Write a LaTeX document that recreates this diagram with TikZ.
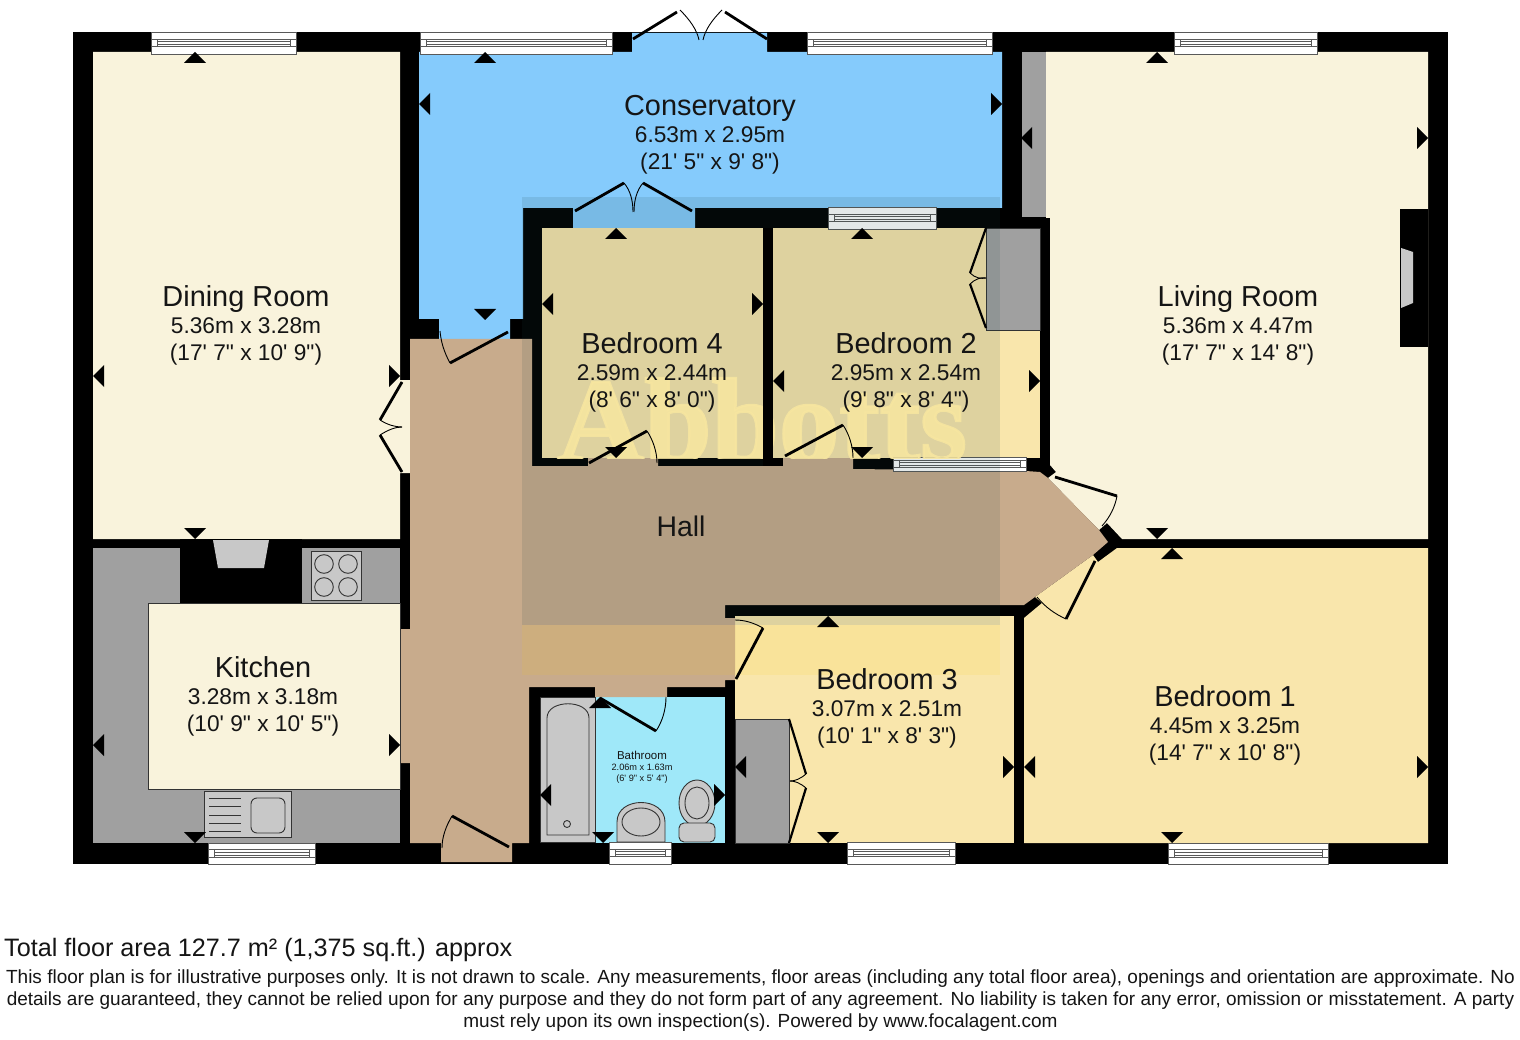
\documentclass[tikz,border=0pt]{standalone}
\usepackage{fontspec}
\usepackage{tikz}
\newfontfamily\planfont{Liberation Sans}
\newfontfamily\logofont[BoldFeatures={FakeBold=2}]{Liberation Serif}
\definecolor{creamroom}{HTML}{F9F3DC}
\definecolor{yellowroom}{HTML}{F9E6AC}
\definecolor{blueroom}{HTML}{85CBFC}
\definecolor{bathroom}{HTML}{9FE8F9}
\definecolor{hallfloor}{HTML}{C8AB8C}
\definecolor{fitted}{HTML}{A0A0A0}
\definecolor{fitting}{HTML}{C8C8C8}
\definecolor{inktext}{HTML}{151515}
\definecolor{logotint}{HTML}{1E4646}
\definecolor{logotext}{HTML}{F7E6A0}
\tikzset{
	roomlabel/.style={align=center, inner sep=0pt, text=inktext, font=\planfont\fontsize{22.7}{27}\selectfont},
	smalllabel/.style={align=center, inner sep=0pt, text=inktext, font=\planfont\fontsize{9.2}{11}\selectfont},
	noticetext/.style={align=center, inner sep=0pt, text=inktext, font=\planfont\fontsize{19}{22}\selectfont},
	doorleaf/.style={line width=2.8pt, black},
	doorswing/.style={line width=0.9pt, black},
	winline/.style={line width=0.8pt, black!65},
	fitline/.style={line width=0.9pt, black!80},
}
\newcommand{\roomtext}[3]{{\fontsize{28.9}{29}\selectfont #1}\\[0.5pt]#2\\#3}
\newcommand{\wallmark}[3]{\fill[black, shift={(#1,#2)}, rotate=#3] (0,0) -- (-11,11) -- (11,11) -- cycle;}
\newcommand{\planwindow}[4]{
	\draw[winline, fill=white] (#1,#2) rectangle (#3,#4);
	\draw[winline] (#1,{(#2+#4)/2-3.7}) -- (#3,{(#2+#4)/2-3.7});
	\draw[winline] (#1,{(#2+#4)/2+3.7}) -- (#3,{(#2+#4)/2+3.7});
	\draw[winline] ({#1+6},{(#2+#4)/2-3.7}) rectangle ({#3-6},{(#2+#4)/2+3.7});
	\draw[winline] ({#1+6},{(#2+#4)/2-1.4}) -- ({#3-6},{(#2+#4)/2-1.4});
	\draw[winline] ({#1+6},{(#2+#4)/2+1.4}) -- ({#3-6},{(#2+#4)/2+1.4});
}
\begin{document}
\begin{tikzpicture}[x=1pt, y=-1pt]
\path[use as bounding box, fill=white] (0,0) rectangle (1520,1040);
\fill[black] (73,32) rectangle (1448,864);

\fill[creamroom] (93,52) -- (400,52) -- (400,380) -- (410,380) -- (410,473) -- (400,473) -- (400,539) -- (93,539) -- cycle;
\fill[blueroom] (419,52) -- (632,52) -- (632,33) -- (767,33) -- (767,52) -- (1002,52) -- (1002,208) -- (695,208) -- (695,228) -- (573,228) -- (573,208) -- (523,208) -- (523,319) -- (510,319) -- (510,339) -- (439,339) -- (439,319) -- (419,319) -- cycle;
\fill[creamroom] (1046,52) -- (1428,52) -- (1428,539) -- (1122,539) -- (1107,523) -- (1099,530) -- (1048,478) -- (1056,472) -- (1050,465) -- (1050,218) -- (1046,218) -- cycle;
\fill[yellowroom] (542,228) rectangle (763,458);
\fill[yellowroom] (773,228) rectangle (1040,458);
\fill[yellowroom] (735,616) rectangle (1014,843);
\fill[yellowroom] (1117,548) -- (1428,548) -- (1428,843) -- (1024,843) -- (1024,618) -- (1042,603) -- (1035,597) -- (1093,555) -- (1098,562) -- cycle;
\fill[bathroom] (540,697) rectangle (725,843);
\fill[fitted] (93,548) rectangle (400,843);
\fill[fitted] (1022,52) rectangle (1046,217);
\fill[hallfloor] (410,339) -- (532,339) -- (532,466) -- (588,466) -- (588,458) -- (658,458) -- (658,466) -- (783,466) -- (783,458) -- (853,458) -- (853,469) -- (1026,471) -- (1040,472) -- (1048,478) -- (1099,530) -- (1108,542) -- (1093,555) -- (1035,597) -- (1024,605) -- (725,605) -- (725,618) -- (735,618) -- (735,680) -- (725,680) -- (725,687) -- (667,687) -- (667,697) -- (595,697) -- (595,687) -- (529,687) -- (529,843) -- (512,843) -- (512,862) -- (441,862) -- (441,843) -- (410,843) -- (410,763) -- (400,763) -- (400,629) -- (410,629) -- cycle;

\draw[fitline, fill=creamroom] (148,603) rectangle (400,789);
\fill[black] (180,539) rectangle (302,603);
\fill[fitting] (213,540) -- (269,540) -- (264,568) -- (218,568) -- cycle;
\draw[fitline, fill=fitting] (311,551) rectangle (361,600);
	\draw[fitline] (324,564) circle (9.3);
	\draw[fitline] (348,564) circle (9.3);
	\draw[fitline] (324,587) circle (9.3);
	\draw[fitline] (348,587) circle (9.3);
\draw[fitline, fill=fitting] (204,791) rectangle (291,837);
	\draw[fitline, rounded corners=6pt] (251,798) rectangle (285,833);
	\draw[fitline] (209,798) -- (241,798);
	\draw[fitline] (209,806) -- (241,806);
	\draw[fitline] (209,815) -- (241,815);
	\draw[fitline] (209,823) -- (241,823);
	\draw[fitline] (209,831) -- (241,831);

\fill[black] (1400,209) rectangle (1428,347);
\fill[fitting] (1401,248) -- (1413,252) -- (1413,303) -- (1401,308) -- cycle;

\draw[fitline, fill=fitted] (986,228) rectangle (1040,330);
\draw[fitline, fill=fitted] (735,719) rectangle (789,843);

\draw[fitline, fill=fitting] (540,697) rectangle (595,842);
	\draw[fitline] (547,835) -- (547,718) .. controls (547,699) and (589,699) .. (589,718) -- (589,835) -- cycle;
	\draw[fitline] (567,824) circle (3.5);
\draw[fitline, fill=fitting] (617,842) -- (617,822) .. controls (617,796) and (665,796) .. (665,822) -- (665,842) -- cycle;
	\draw[fitline] (641,822) ellipse (19 and 14);
\draw[fitline, fill=fitting] (697,803) ellipse (18 and 23);
	\draw[fitline] (697,803) ellipse (12 and 16);
\draw[fitline, fill=fitting, rounded corners=5pt] (679,823) rectangle (715,842);

\planwindow{151}{32}{296}{54}
\planwindow{420}{32}{612}{54}
\planwindow{807}{32}{992}{54}
\planwindow{1174}{32}{1317}{54}
\planwindow{828}{207}{936}{229}
\planwindow{893}{457}{1026}{471}
\planwindow{208}{843}{315}{864}
\planwindow{609}{842}{671}{864}
\planwindow{847}{842}{955}{864}
\planwindow{1168}{843}{1328}{864}

\fill[logotint, opacity=0.12] (522,197) rectangle (1000,625);
\fill[yellow!70!orange, opacity=0.1] (522,625) rectangle (1000,675);
\begin{scope}
	\clip (522,370) rectangle (1000,458);
	\node (logo) at (762,462) [anchor=base, inner sep=0pt, text=logotext, text opacity=0.85, font=\logofont\bfseries\fontsize{121}{121}\selectfont] {Abbotts};
\end{scope}
\fill[black] (763,228) rectangle (773,466);
\fill[black] (773,458) rectangle (783,466);

\draw[doorleaf] (633,39) -- (677,12);
	\draw[doorswing] (680,10) .. controls (690,20) and (697,30) .. (699,40);
\draw[doorleaf] (767,39) -- (725,12);
	\draw[doorswing] (722,10) .. controls (712,20) and (705,30) .. (703,40);
\draw[doorleaf] (575,211) -- (624,183);
	\draw[doorswing] (624,183) .. controls (630,190) and (633,200) .. (633,212);
\draw[doorleaf] (692,211) -- (643,183);
	\draw[doorswing] (643,183) .. controls (637,190) and (634,200) .. (634,212);
\draw[doorleaf] (508,332) -- (450,363);
	\draw[doorswing] (450,363) .. controls (444,352) and (441,342) .. (440,331);
\draw[doorleaf] (589,463) -- (647,431);
	\draw[doorswing] (647,431) .. controls (653,440) and (657,452) .. (657,463);
\draw[doorleaf] (785,456) -- (843,425);
	\draw[doorswing] (843,425) .. controls (849,434) and (853,446) .. (853,458);
\draw[doorleaf] (402,382) -- (380,420);
	\draw[doorswing] (380,420) .. controls (388,425) and (395,427) .. (402,427);
\draw[doorleaf] (402,472) -- (380,435);
	\draw[doorswing] (380,435) .. controls (388,430) and (395,427) .. (402,427);
\draw[doorleaf] (736,679) -- (763,628);
	\draw[doorswing] (763,628) .. controls (754,623) and (745,620) .. (735,620);
\draw[doorleaf] (600,698) -- (656,731);
	\draw[doorswing] (656,731) .. controls (662,722) and (666,710) .. (666,697);
\draw[doorleaf] (509,847) -- (452,816);
	\draw[doorswing] (452,816) .. controls (446,826) and (442,837) .. (442,848);
\draw[doorleaf] (1055,477) -- (1117,496);
	\draw[doorswing] (1117,496) .. controls (1115,507) and (1110,517) .. (1102,526);
\draw[doorleaf] (1095,561) -- (1066,619);
	\draw[doorswing] (1066,619) .. controls (1055,614) and (1045,607) .. (1037,597);
\draw[doorleaf, line width=2.2pt] (986,228) -- (970,273);
	\draw[doorswing] (970,273) .. controls (975,278) and (981,279) .. (986,278);
\draw[doorleaf, line width=2.2pt] (986,328) -- (970,284);
	\draw[doorswing] (970,284) .. controls (975,279) and (981,277) .. (986,278);
\draw[doorleaf, line width=2.2pt] (789,719) -- (806,774);
	\draw[doorswing] (806,774) .. controls (800,779) and (795,781) .. (790,781);
\draw[doorleaf, line width=2.2pt] (789,843) -- (806,788);
	\draw[doorswing] (806,788) .. controls (800,783) and (795,781) .. (790,781);

\wallmark{195}{52}{0}
\wallmark{485}{52}{0}
\wallmark{1157}{52}{0}
\wallmark{616}{228}{0}
\wallmark{862}{228}{0}
\wallmark{1172}{548}{0}
\wallmark{828}{616}{0}
\wallmark{600}{697}{0}
\wallmark{195}{539}{180}
\wallmark{485}{320}{180}
\wallmark{1157}{539}{180}
\wallmark{195}{843}{180}
\wallmark{616}{458}{180}
\wallmark{862}{458}{180}
\wallmark{828}{843}{180}
\wallmark{1172}{843}{180}
\wallmark{603}{843}{180}
\wallmark{93}{376}{90}
\wallmark{419}{104}{90}
\wallmark{1021}{138}{90}
\wallmark{93}{745}{90}
\wallmark{542}{304}{90}
\wallmark{773}{381}{90}
\wallmark{735}{767}{90}
\wallmark{1024}{767}{90}
\wallmark{540}{795}{90}
\wallmark{400}{376}{-90}
\wallmark{1002}{104}{-90}
\wallmark{1428}{138}{-90}
\wallmark{400}{745}{-90}
\wallmark{763}{304}{-90}
\wallmark{1040}{381}{-90}
\wallmark{1014}{767}{-90}
\wallmark{725}{795}{-90}
\wallmark{1428}{767}{-90}

\node (dining) at (246,325.5) [roomlabel] {\roomtext{Dining Room}{5.36m x 3.28m}{(17' 7" x 10' 9")}};
\node (conservatory) at (710,135) [roomlabel] {\roomtext{Conservatory}{6.53m x 2.95m}{(21' 5" x 9' 8")}};
\node (bed4) at (652,372.5) [roomlabel] {\roomtext{Bedroom 4}{2.59m x 2.44m}{(8' 6" x 8' 0")}};
\node (bed2) at (906,372.5) [roomlabel] {\roomtext{Bedroom 2}{2.95m x 2.54m}{(9' 8" x 8' 4")}};
\node (living) at (1238,325.5) [roomlabel] {\roomtext{Living Room}{5.36m x 4.47m}{(17' 7" x 14' 8")}};
\node (hall) at (681,526) [roomlabel, font=\planfont\fontsize{28.4}{29}\selectfont] {Hall};
\node (kitchen) at (263,696.5) [roomlabel] {\roomtext{Kitchen}{3.28m x 3.18m}{(10' 9" x 10' 5")}};
\node (bed3) at (887,708.5) [roomlabel] {\roomtext{Bedroom 3}{3.07m x 2.51m}{(10' 1" x 8' 3")}};
\node (bed1) at (1225,725.5) [roomlabel] {\roomtext{Bedroom 1}{4.45m x 3.25m}{(14' 7" x 10' 8")}};
\node (bath) at (642,767) [smalllabel] {{\fontsize{11.5}{12}\selectfont Bathroom}\\2.06m x 1.63m\\(6' 9" x 5' 4")};

\node (total) at (4,950) [anchor=west, noticetext, font=\planfont\fontsize{25.2}{27}\selectfont] {Total floor area 127.7 m² (1,375 sq.ft.) approx};
\node (notice) at (760.5,1000.5) [noticetext] {This floor plan is for illustrative purposes only. It is not drawn to scale. Any measurements, floor areas (including any total floor area), openings and orientation are approximate. No\\details are guaranteed, they cannot be relied upon for any purpose and they do not form part of any agreement. No liability is taken for any error, omission or misstatement. A party\\must rely upon its own inspection(s). Powered by www.focalagent.com};
\end{tikzpicture}
\end{document}
